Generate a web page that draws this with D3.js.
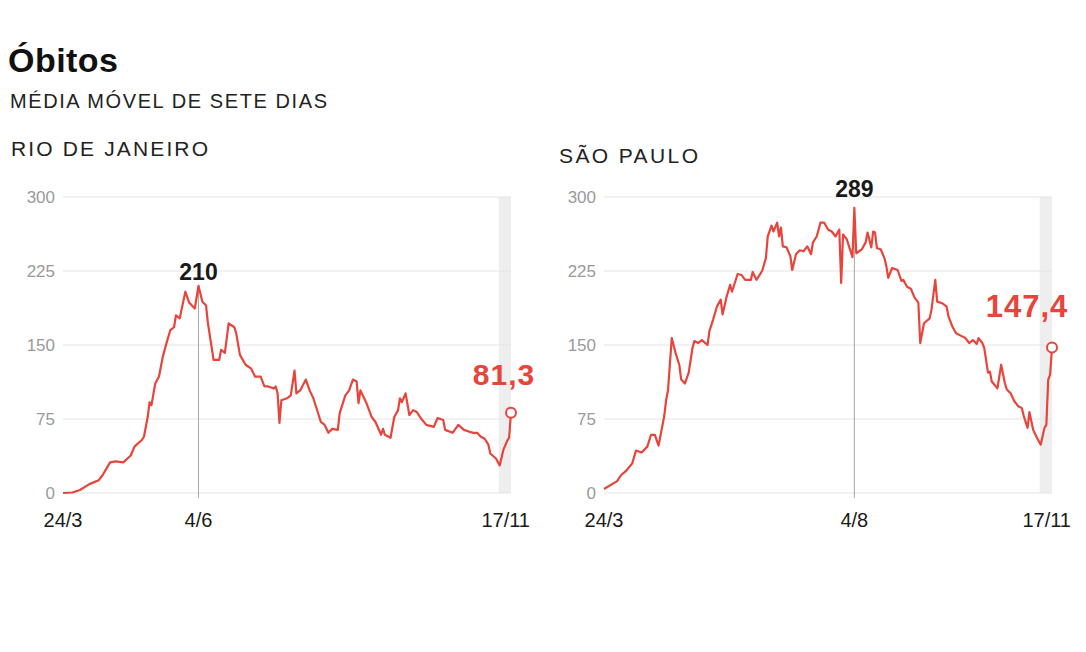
<!DOCTYPE html>
<html>
<head>
<meta charset="utf-8">
<script src="https://cdn.jsdelivr.net/npm/d3@7"></script>
<style>
  html, body { margin: 0; padding: 0; background: #fff; }
  svg { display: block; font-family: "Liberation Sans", Arial, sans-serif; }
</style>
</head>
<body>
<svg id="chart" width="1086" height="652"></svg>
<script>
// ---- DATA ----
const startDate = "2020-03-24";
const endDate = "2020-11-17";
const bandStartDate = "2020-11-11";

const yTickValues = [0, 75, 150, 225, 300];

// Rio de Janeiro: days since 24/3 and 7-day moving average of deaths
const rioDays = [0,5,9,14,19,21,25,28,32,36,38,42,43,45,46,47,49,51,53,55,57,59,60,62,65,67,70,72,74,76,77,80,83,84,86,88,91,92,94,97,100,101,102,105,107,109,112,113,114,115,116,119,121,123,124,126,129,131,133,137,139,141,143,146,147,150,152,154,156,157,158,161,163,164,166,169,170,171,174,176,178,179,180,182,184,186,188,190,193,197,199,202,203,207,210,213,216,218,220,222,224,226,227,230,232,234,236,237,238];
const rioValues = [0,0.5,3,9,13,18,31,32,31,38,47,54,57,77,92,89,111,118,138,152,165,168,180,177,204,193,187,210,194,190,172,135,135,145,142,172,168,162,140,130,126,122,118,118,108,108,106,108,101,71,94,96,99,124,101,104,115,104,96,72,69,61,65,64,81,99,104,115,113,91,104,92,82,77,72,59,65,59,56,77,84,96,92,101,79,84,82,76,69,67,76,74,64,61,69,64,62,61,61,57,55,49,40,35,28,44,53,56,81.3];

// São Paulo
const spDays = [0,7,9,12,15,17,20,23,25,27,29,32,33,34,36,38,40,41,43,45,47,48,50,52,55,56,58,60,62,63,65,67,68,71,73,75,78,79,81,84,86,87,89,90,92,93,94,95,97,99,100,102,104,106,108,110,111,113,115,117,119,121,123,125,126,127,129,131,132,133,134,137,139,140,142,143,144,145,147,149,150,151,153,156,158,159,161,163,165,167,168,170,173,174,176,177,180,182,183,185,187,190,192,194,196,198,199,201,202,204,205,206,209,211,213,214,216,218,220,222,223,225,226,228,230,232,234,235,236,237,238];
const spValues = [4,12,18,23,30,43,41,47,59,59,48,78,94,104,157,142,130,115,111,122,147,154,152,155,150,164,176,189,196,181,198,211,204,222,221,216,216,224,216,225,238,260,271,265,274,260,269,250,249,240,226,242,246,245,250,242,254,260,274,274,267,265,260,267,213,262,257,245,239,289,243,247,254,264,249,265,264,248,247,238,230,218,228,226,215,216,209,207,198,193,152,172,177,186,216,194,192,189,179,169,162,159,157,152,155,151,157,152,147,122,123,113,106,130,111,105,101,93,88,86,78,66,82,64,56,49,66,69,115,120,147.4];

const charts = [
  { name: "RIO DE JANEIRO", days: rioDays, values: rioValues, peakLabel: "210", lastLabel: "81,3",
    xTickLabel: "4/6", xTickDate: "2020-06-04" },
  { name: "SÃO PAULO", days: spDays, values: spValues, peakLabel: "289", lastLabel: "147,4",
    xTickLabel: "4/8", xTickDate: "2020-08-04" }
];

// ---- LAYOUT ----
const layouts = [
  { x0: 63, x1: 511, nameX: 11, nameY: 156, nameW: 197, lastX: 504, lastY: 385, lastSize: 30, peakY: 280 },
  { x0: 604, x1: 1052, nameX: 559, nameY: 163, nameW: 139, lastX: 1027, lastY: 317, lastSize: 31, peakY: 197 }
];
const RED = "#e8443c";
const parse = d3.timeParse("%Y-%m-%d");
const t0 = parse(startDate), t1 = parse(endDate), tb = parse(bandStartDate);

const svg = d3.select("#chart");
svg.append("rect").attr("width", 1086).attr("height", 652).attr("fill", "#fff");

svg.append("text").attr("x", 8).attr("y", 72).attr("font-size", 34).attr("font-weight", "bold")
  .attr("fill", "#111").attr("textLength", 110).attr("lengthAdjust", "spacing").text("Óbitos");
svg.append("text").attr("x", 10).attr("y", 108).attr("font-size", 20).attr("fill", "#222")
  .attr("textLength", 317).attr("lengthAdjust", "spacing").text("MÉDIA MÓVEL DE SETE DIAS");

const y = d3.scaleLinear().domain([0, 300]).range([493, 197]);

charts.forEach((c, i) => {
  const L = layouts[i];
  const x = d3.scaleTime().domain([t0, t1]).range([L.x0, L.x1]);
  const g = svg.append("g");
  const pts = c.days.map((d, k) => ({ date: d3.timeDay.offset(t0, d), v: c.values[k] }));

  g.append("text").attr("x", L.nameX).attr("y", L.nameY).attr("font-size", 21).attr("fill", "#222")
    .attr("textLength", L.nameW).attr("lengthAdjust", "spacing").text(c.name);

  // gray band for recent (incomplete) days
  g.append("rect").attr("x", x(tb) - 1).attr("y", y(300))
    .attr("width", x(t1) - x(tb) + 1).attr("height", y(0) - y(300)).attr("fill", "#eeeeee");

  // gridlines
  g.selectAll(".grid").data(yTickValues).join("line")
    .attr("x1", L.x0).attr("x2", L.x1).attr("y1", d => y(d)).attr("y2", d => y(d))
    .attr("stroke", "#e4e4e4").attr("stroke-width", 1);

  // y axis
  const ya = g.append("g").attr("transform", `translate(${L.x0},0)`)
    .call(d3.axisLeft(y).tickValues(yTickValues).tickSize(0).tickPadding(8));
  ya.select(".domain").remove();
  ya.selectAll("text").attr("font-size", 17).attr("fill", "#9a9a9a")
    .attr("font-family", "'Liberation Sans', Arial, sans-serif");

  // peak vertical line
  const peakIdx = d3.maxIndex(c.values);
  const peak = pts[peakIdx];
  g.append("line").attr("x1", x(peak.date)).attr("x2", x(peak.date))
    .attr("y1", 498).attr("y2", y(peak.v)).attr("stroke", "#a8a8a8").attr("stroke-width", 1);

  // line
  const line = d3.line().x(d => x(d.date)).y(d => y(d.v));
  g.append("path").datum(pts).attr("d", line).attr("fill", "none")
    .attr("stroke", RED).attr("stroke-width", 2.2).attr("stroke-linejoin", "round");

  // last point
  const last = pts[pts.length - 1];
  g.append("circle").attr("cx", x(last.date)).attr("cy", y(last.v)).attr("r", 5)
    .attr("fill", "#fff").attr("stroke", RED).attr("stroke-width", 2);

  // labels
  g.append("text").attr("x", x(peak.date)).attr("y", L.peakY).attr("text-anchor", "middle")
    .attr("font-size", 23).attr("font-weight", "bold").attr("fill", "#1a1a1a").text(c.peakLabel);
  g.append("text").attr("x", L.lastX).attr("y", L.lastY).attr("text-anchor", "middle")
    .attr("font-size", L.lastSize).attr("font-weight", "bold").attr("fill", RED)
    .attr("letter-spacing", 1).text(c.lastLabel);

  // x labels
  const xl = [
    { t: "24/3", x: x(t0), a: "middle" },
    { t: c.xTickLabel, x: x(parse(c.xTickDate)), a: "middle" },
    { t: "17/11", x: x(t1) + 19, a: "end" }
  ];
  g.selectAll(".xl").data(xl).join("text").attr("x", d => d.x).attr("y", 527)
    .attr("text-anchor", d => d.a).attr("font-size", 20).attr("fill", "#1a1a1a").text(d => d.t);
});
</script>
</body>
</html>
